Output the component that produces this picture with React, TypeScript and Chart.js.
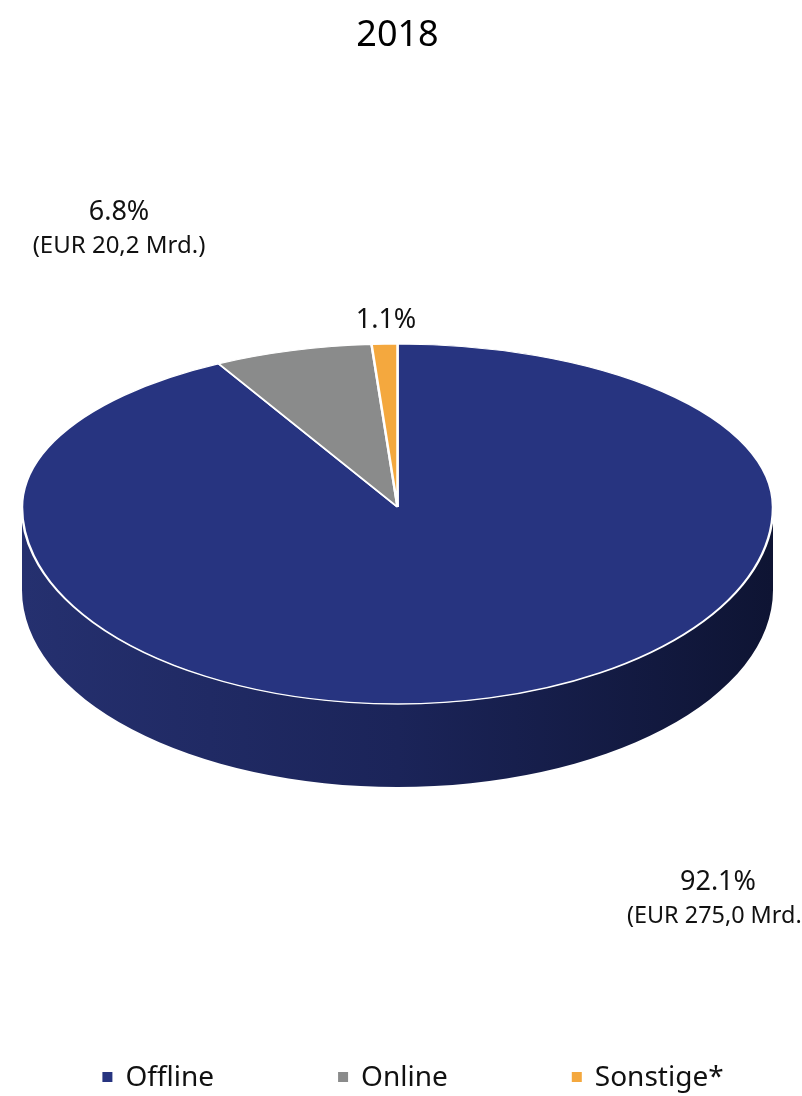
import React, { useEffect, useRef } from 'react';
import { Chart, registerables } from 'chart.js';

Chart.register(...registerables);

const chartTitle = '2018';
const categories = ['Offline', 'Online', 'Sonstige*'];
const shares = [92.1, 6.8, 1.1];
const percentLabels = ['92.1%', '6.8%', '1.1%'];
const amountLabels = ['(EUR 275,0 Mrd.)', '(EUR 20,2 Mrd.)', ''];
const sliceColors = ['#273480', '#8a8b8b', '#f4a83e'];

const FONT = '"Noto Sans", "DejaVu Sans", sans-serif';
// perspective: back half is flatter than the front half
const TILT_BACK = 163 / 375.5;
const TILT_FRONT = 197 / 375.5;
const DEPTH = 83;

const sideShades: string[][] = [
  ['#25306f', '#1b2459', '#0e1433'],
  ['#6e6f6f', '#5a5b5b', '#414242'],
  ['#c9842c', '#b07325', '#8a5a1c'],
];

const tiltPlugin = {
  id: 'tilt3d',
  beforeDatasetsDraw(chart: any) {
    const arcs = chart.getDatasetMeta(0).data;
    const ctx = chart.ctx as CanvasRenderingContext2D;
    ctx.save();
    if (!arcs.length) return;
    const { x, y, outerRadius } = arcs[0];
    const rx = outerRadius;
    const ry = outerRadius * TILT_FRONT;
    arcs.forEach((arc: any, i: number) => {
      const s = arc.startAngle;
      const e = arc.endAngle;
      const shades = sideShades[i % sideShades.length];
      const grad = ctx.createLinearGradient(x - rx, 0, x + rx, 0);
      grad.addColorStop(0, shades[0]);
      grad.addColorStop(0.5, shades[1]);
      grad.addColorStop(1, shades[2]);
      for (const off of [-2 * Math.PI, 0, 2 * Math.PI]) {
        const a0 = Math.max(s, off);
        const a1 = Math.min(e, Math.PI + off);
        if (a1 > a0) {
          ctx.beginPath();
          ctx.ellipse(x, y, rx, ry, 0, a0 - off, a1 - off, false);
          ctx.ellipse(x, y + DEPTH, rx, ry, 0, a1 - off, a0 - off, true);
          ctx.closePath();
          ctx.fillStyle = grad;
          ctx.fill();
        }
      }
    });
    // back half of the top face
    ctx.beginPath();
    ctx.rect(0, 0, chart.width, y);
    ctx.clip();
    ctx.translate(x, y);
    ctx.scale(1, TILT_BACK);
    ctx.translate(-x, -y);
  },
  afterDatasetsDraw(chart: any) {
    const ctx = chart.ctx as CanvasRenderingContext2D;
    ctx.restore();
    const meta = chart.getDatasetMeta(0);
    if (!meta.data.length) return;
    const { x, y } = meta.data[0];
    // front half of the top face
    ctx.save();
    ctx.beginPath();
    ctx.rect(0, y, chart.width, chart.height - y);
    ctx.clip();
    ctx.translate(x, y);
    ctx.scale(1, TILT_FRONT);
    ctx.translate(-x, -y);
    meta.controller.draw();
    ctx.restore();
  },
};

const labelPlugin = {
  id: 'sliceLabels',
  afterDraw(chart: any) {
    const ctx = chart.ctx as CanvasRenderingContext2D;
    const anchors = [
      { x: 718, y: 882, ax: 627, align: 'left', amountSize: 23.4 },
      { x: 119, y: 212, ax: 119, align: 'center', amountSize: 24 },
      { x: 386, y: 320, ax: 386, align: 'center', amountSize: 24 },
    ];
    ctx.save();
    ctx.fillStyle = '#111';
    ctx.textBaseline = 'middle';
    anchors.forEach((a, i) => {
      ctx.textAlign = 'center';
      ctx.font = `27px ${FONT}`;
      ctx.fillText(percentLabels[i], a.x, a.y);
      if (amountLabels[i]) {
        ctx.textAlign = a.align as CanvasTextAlign;
        ctx.font = `${a.amountSize}px ${FONT}`;
        ctx.fillText(amountLabels[i], a.ax, a.y + 34);
      }
    });

    // legend row
    const meta = chart.getDatasetMeta(0);
    const fontSize = 28;
    const box = 10;
    const boxGap = 13;
    const itemGap = 124;
    const centerX = 413;
    const rowY = 1077;
    ctx.font = `${fontSize}px ${FONT}`;
    ctx.textAlign = 'left';
    const widths = categories.map((c) => box + boxGap + ctx.measureText(c).width);
    const total = widths.reduce((s, w) => s + w, 0) + itemGap * (widths.length - 1);
    let cx = centerX - total / 2;
    categories.forEach((c, i) => {
      const arc = meta.data[i];
      ctx.fillStyle = (arc && arc.options && arc.options.backgroundColor) || sliceColors[i];
      ctx.fillRect(cx, rowY - box / 2, box, box);
      ctx.fillStyle = '#111';
      ctx.fillText(c, cx + box + boxGap, rowY + 1);
      cx += widths[i] + itemGap;
    });
    ctx.restore();
  },
};

export default function App() {
  const ref = useRef<HTMLCanvasElement | null>(null);
  useEffect(() => {
    if (!ref.current) return;
    const chart = new Chart(ref.current, {
      type: 'pie',
      data: {
        labels: categories,
        datasets: [
          {
            data: shares,
            backgroundColor: sliceColors,
            borderColor: '#ffffff',
            borderWidth: 2.5,
            hoverOffset: 0,
            offset: 0,
            clip: false,
          } as any,
        ],
      },
      options: {
        animation: false,
        responsive: true,
        maintainAspectRatio: false,
        radius: 375.5,
        layout: { padding: { left: 22, right: 29, top: 0, bottom: 203 } },
        plugins: {
          title: {
            display: true,
            text: chartTitle,
            color: '#000',
            font: { family: FONT, size: 36, weight: 'normal' },
            padding: { top: 13.8, bottom: 64 },
          },
          legend: { display: false },
          tooltip: { enabled: false },
        },
      } as any,
      plugins: [tiltPlugin, labelPlugin],
    });
    return () => chart.destroy();
  }, []);
  return (
    <div style={{ position: 'absolute', left: 0, top: 0, width: 802, height: 1096 }}>
      <canvas ref={ref} />
    </div>
  );
}
